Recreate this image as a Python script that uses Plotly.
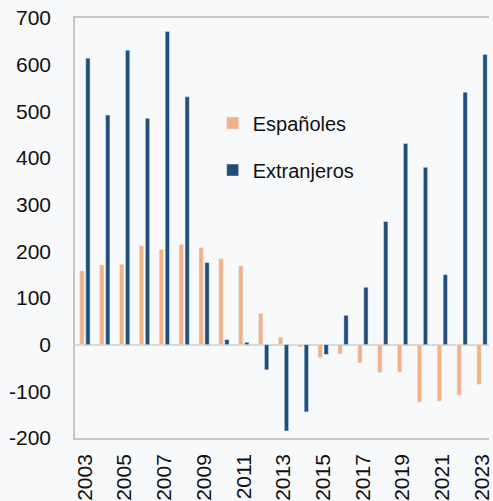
import plotly.graph_objects as go

years = list(range(2003, 2024))
espanoles = [158, 171, 172, 212, 204, 215, 208, 184, 169, 67, 16, -5, -28, -20, -39, -60, -59, -123, -121, -108, -85]
extranjeros = [614, 492, 631, 485, 671, 531, 176, 11, 5, -54, -185, -144, -21, 63, 123, 264, 431, 380, 150, 541, 622]
tick_years = list(range(2003, 2024, 2))
y_ticks = list(range(-200, 701, 100))
y_tick_labels = [str(v) for v in y_ticks]

fig = go.Figure()
fig.add_trace(go.Bar(x=years, y=espanoles, name="Españoles", marker_color="#F4B183",
                     legendgroup="a"))
fig.add_trace(go.Bar(x=years, y=extranjeros, name="Extranjeros", marker_color="#1F4E79",
                     legendgroup="b"))

font = dict(family="Liberation Sans, Arial, sans-serif", size=21, color="#111111")
fig.update_layout(
    width=493, height=501,
    margin=dict(l=75, r=0, t=18, b=61),
    paper_bgcolor="#F7F9FB", plot_bgcolor="#F7F9FB",
    barmode="group", bargap=0.4, bargroupgap=0.28,
    font=font,
    showlegend=True,
    legend=dict(x=(214 - 75) / 418, y=(440 - 104) / 422, xanchor="left", yanchor="top",
                bgcolor="rgba(0,0,0,0)", font=dict(size=20),
                traceorder="grouped", tracegroupgap=18),
)
fig.update_xaxes(range=[2002.5, 2023.35], tickvals=tick_years, ticktext=[str(y) for y in tick_years],
                 tickangle=-90, showgrid=False, zeroline=False, showline=True, mirror=True,
                 linecolor="#C4C6C8", linewidth=1.5, ticks="", ticklabelstandoff=6,
                 ticklabeloverflow="allow", tickfont=font)
fig.update_yaxes(range=[-200, 700], tickvals=y_ticks, ticktext=y_tick_labels, showgrid=False,
                 zeroline=True, zerolinecolor="#D9DADB", zerolinewidth=2, showline=True,
                 linecolor="#C4C6C8", linewidth=1.5, ticks="", ticklabelstandoff=18,
                 tickfont=font)

fig.write_html("out.html", config={"displayModeBar": False})
with open("out.html", "r", encoding="utf-8") as f:
    html = f.read()
html = html.replace("<head>", "<head><style>html,body{margin:0;padding:0;overflow:hidden;}</style>", 1)
with open("out.html", "w", encoding="utf-8") as f:
    f.write(html)
